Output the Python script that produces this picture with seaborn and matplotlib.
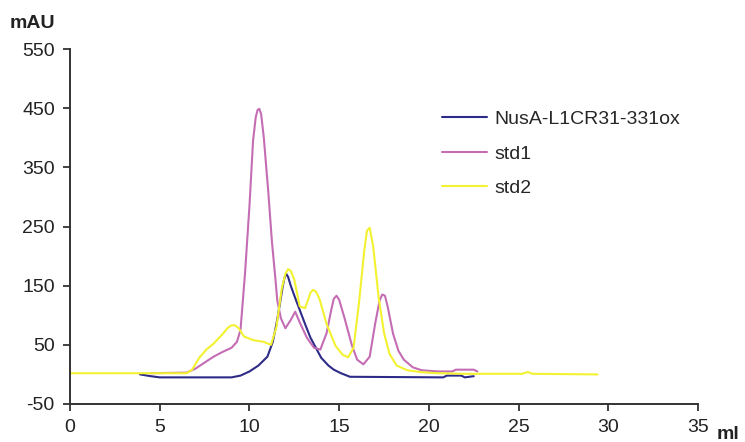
import matplotlib
matplotlib.use("Agg")
import matplotlib.pyplot as plt
import seaborn as sns
import pandas as pd

# Elution profiles (volume in ml, absorbance in mAU)
nusa_ml = [3.9, 4.5, 5.0, 9.0, 9.5, 10.0, 10.5, 11.0, 11.3, 11.5, 11.7, 11.85, 11.95,
           12.05, 12.15, 12.3, 12.6, 12.85, 13.1, 13.4, 13.7, 14.0, 14.4, 14.7, 15.1,
           15.6, 20.8, 21.0, 21.8, 22.0, 22.5]
nusa_mau = [0, -3, -5, -5, -2, 5, 15, 30, 55, 85, 120, 148, 163,
            170, 165, 150, 125, 105, 85, 62, 45, 28, 15, 8, 2,
            -4, -5, -2, -2, -5, -3]

std1_ml = [4.5, 6.5, 7.0, 7.5, 8.0, 8.5, 9.0, 9.3, 9.5, 9.75, 10.0, 10.2, 10.35, 10.45,
           10.55, 10.65, 10.8, 11.05, 11.25, 11.45, 11.55, 11.75, 12.0, 12.3, 12.55,
           12.8, 13.2, 13.6, 13.95, 14.3, 14.55, 14.7, 14.85, 15.0, 15.3, 15.7, 16.0,
           16.35, 16.7, 17.0, 17.25, 17.4, 17.55, 17.7, 18.0, 18.3, 18.6, 19.1, 19.6,
           20.5, 21.3, 21.5, 22.5, 22.7]
std1_mau = [2, 3, 10, 20, 30, 38, 45, 55, 75, 170, 285, 395, 435, 447,
            449, 440, 400, 308, 225, 160, 125, 95, 78, 92, 106,
            88, 62, 45, 42, 70, 108, 128, 133, 126, 95, 50, 25,
            17, 30, 85, 125, 135, 133, 115, 69, 40, 25, 12, 7,
            5, 5, 8, 8, 5]

std2_ml = [0, 6.5, 6.8, 7.2, 7.6, 8.0, 8.5, 8.8, 9.0, 9.2, 9.4, 9.7, 10.2, 10.8, 11.2,
           11.5, 11.8, 12.0, 12.15, 12.3, 12.5, 12.8, 13.1, 13.4, 13.55, 13.7, 13.9,
           14.3, 14.8, 15.2, 15.5, 15.8, 16.1, 16.4, 16.55, 16.7, 16.9, 17.2, 17.5,
           17.8, 18.2, 18.8, 19.5, 20.5, 22.0, 25.2, 25.5, 25.8, 29.4]
std2_mau = [2, 2, 8, 28, 42, 52, 68, 79, 83, 83, 78, 64, 58, 55, 50,
            80, 145, 170, 178, 175, 160, 115, 112, 138, 143, 140, 128,
            85, 48, 33, 29, 45, 120, 210, 243, 248, 215, 130, 70,
            35, 15, 7, 4, 2, 1, 1, 4, 1, 0]

series_names = ["NusA-L1CR31-331ox", "std1", "std2"]
series_colors = ["#2E2B88", "#C46DB4", "#F2F230"]

x_ticks = [0, 5, 10, 15, 20, 25, 30, 35]
y_ticks = [-50, 50, 150, 250, 350, 450, 550]

frames = []
for name, xs, ys in zip(series_names,
                        [nusa_ml, std1_ml, std2_ml],
                        [nusa_mau, std1_mau, std2_mau]):
    frames.append(pd.DataFrame({"ml": xs, "mAU": ys, "sample": name}))
df = pd.concat(frames, ignore_index=True)

sns.set_theme(style="ticks")
plt.rcParams["font.family"] = ["Liberation Sans", "DejaVu Sans"]
plt.rcParams["axes.unicode_minus"] = False

fig = plt.figure(figsize=(7.45, 4.42), dpi=100)
ax = fig.add_axes([0.094, 0.086, 0.843, 0.803])

sns.lineplot(data=df, x="ml", y="mAU", hue="sample", hue_order=series_names,
             palette=series_colors, sort=False, estimator=None, linewidth=1.5,
             ax=ax)

ax.set_xlim(0, 35)
ax.set_ylim(-50, 550)
ax.set_xticks(x_ticks)
ax.set_yticks(y_ticks)
ax.tick_params(axis="both", labelsize=14, length=5, width=1.3, color="#333333",
               labelcolor="#222222", pad=6)
for side in ["top", "right"]:
    ax.spines[side].set_visible(False)
for side in ["left", "bottom"]:
    ax.spines[side].set_linewidth(1.4)
    ax.spines[side].set_color("#333333")
ax.set_xlabel("")
ax.set_ylabel("")

fig.text(0.013, 0.947, "mAU", fontsize=14, fontweight="bold", color="#222222",
         va="center", ha="left")
fig.text(0.962, 0.017, "ml", fontsize=14, fontweight="bold", color="#222222",
         va="center", ha="left")

ax.legend(loc="upper left", bbox_to_anchor=(0.58, 0.849), frameon=False,
          fontsize=14, handlelength=2.3, handletextpad=0.4, labelspacing=0.87,
          borderaxespad=0)

fig.savefig("out.png", dpi=100)
